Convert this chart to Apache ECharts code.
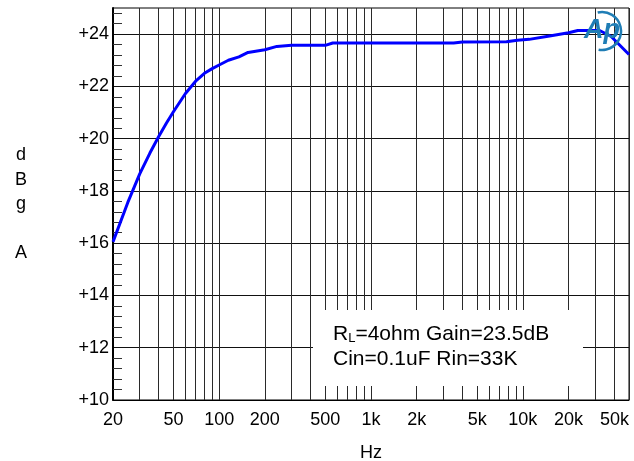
<!DOCTYPE html>
<html>
<head>
<meta charset="utf-8">
<script src="https://cdn.jsdelivr.net/npm/echarts@6/dist/echarts.min.js"></script>
<style>
html,body{margin:0;padding:0;background:#fff;}
#c{width:634px;height:461px;}
</style>
</head>
<body>
<div id="c"></div>
<script>
// Data
const freqHz = [20, 25, 30, 35, 40, 45, 50, 60, 70, 80, 90, 100, 115, 135, 155, 200, 240, 300, 500, 560, 3500, 4000, 7800, 9200, 11000, 15000, 20000, 23000, 32000, 38000, 50000];
const gainDb = [16.05, 17.55, 18.65, 19.45, 20.08, 20.6, 21.03, 21.73, 22.2, 22.5, 22.68, 22.82, 23.0, 23.13, 23.3, 23.4, 23.53, 23.57, 23.57, 23.66, 23.66, 23.7, 23.71, 23.77, 23.8, 23.93, 24.05, 24.14, 24.14, 23.92, 23.22];
const xGridValues = [20, 30, 40, 50, 60, 70, 80, 90, 100, 200, 300, 400, 500, 600, 700, 800, 900, 1000, 2000, 3000, 4000, 5000, 6000, 7000, 8000, 9000, 10000, 20000, 30000, 40000, 50000];
const xLabelValues = [20, 50, 100, 200, 500, 1000, 2000, 5000, 10000, 20000, 50000];
const yLabelValues = [10, 12, 14, 16, 18, 20, 22, 24];
const yMinorValues = [10.4, 10.8, 11.2, 11.6, 12.4, 12.8, 13.2, 13.6, 14.4, 14.8, 15.2, 15.6, 16.4, 16.8, 17.2, 17.6, 18.4, 18.8, 19.2, 19.6, 20.4, 20.8, 21.2, 21.6, 22.4, 22.8, 23.2, 23.6, 24.4, 24.8];
const noteLine1 = ['R', 'L', '=4ohm Gain=23.5dB'];
const noteLine2 = 'Cin=0.1uF Rin=33K';

const FONT = 'Liberation Sans, Arial, sans-serif';
const chart = echarts.init(document.getElementById('c'), null, {renderer: 'canvas'});
const seriesData = freqHz.map((f, i) => [f, gainDb[i]]);

chart.setOption({
  animation: false,
  backgroundColor: '#fff',
  grid: {left: 113, right: 5, top: 8, bottom: 61, show: true, borderColor: '#000', borderWidth: 1,
    backgroundColor: 'transparent', containLabel: false, outerBoundsMode: 'none'},
  xAxis: {
    type: 'log', logBase: 10, min: 20, max: 50000,
    name: 'Hz', nameLocation: 'middle', nameGap: 44,
    nameTextStyle: {fontFamily: FONT, fontSize: 18, color: '#000'},
    axisLine: {show: true, lineStyle: {color: '#000', width: 1}},
    axisTick: {show: false, customValues: xGridValues},
    axisLabel: {customValues: xLabelValues, fontFamily: FONT, fontSize: 18, color: '#000', margin: 11,
      alignMaxLabel: 'right', showMaxLabel: true, showMinLabel: true,
      formatter: v => v >= 1000 ? (v / 1000) + 'k' : String(v)},
    splitLine: {show: true, lineStyle: {color: '#2a2a2a', width: 1}},
    minorTick: {show: false}, minorSplitLine: {show: false}
  },
  yAxis: [{
    type: 'value', min: 10, max: 25,
    name: 'd\nB\ng\n\nA', nameLocation: 'middle', nameRotate: 0, nameGap: 92,
    nameTextStyle: {fontFamily: FONT, fontSize: 18, color: '#000', lineHeight: 24.3, align: 'center'},
    axisLine: {show: true, lineStyle: {color: '#000', width: 2}},
    axisTick: {show: false, customValues: yLabelValues},
    axisLabel: {customValues: yLabelValues, fontFamily: FONT, fontSize: 18, color: '#000', margin: 4,
      formatter: v => '+' + v},
    splitLine: {show: true, lineStyle: {color: '#111', width: 1}}
  }, {
    type: 'value', min: 10, max: 25, position: 'left',
    axisLine: {show: false},
    axisTick: {show: true, inside: true, length: 9, customValues: yMinorValues, lineStyle: {color: '#333', width: 1}},
    axisLabel: {show: false},
    splitLine: {show: false}
  }],
  series: [{
    type: 'line', xAxisIndex: 0, yAxisIndex: 0,
    data: seriesData, symbol: 'none', smooth: false,
    lineStyle: {color: '#0000ff', width: 3},
    z: 5
  }],
  graphic: [
    {type: 'rect', z: 50, shape: {x: 313, y: 310, width: 270, height: 76}, style: {fill: '#fff'}},
    {type: 'text', z: 60, x: 333, y: 334, style: {
      text: '{n|' + noteLine1[0] + '}{s|' + noteLine1[1] + '}{n|' + noteLine1[2] + '}',
      verticalAlign: 'middle', fill: '#000', fontFamily: FONT,
      rich: {n: {fontSize: 21, fontFamily: FONT, fill: '#000'},
             s: {fontSize: 13, fontFamily: FONT, fill: '#000', verticalAlign: 'bottom', padding: [0, 0, 0, 0]}}
    }},
    {type: 'text', z: 60, x: 333, y: 359, style: {text: noteLine2, fontSize: 21, fontFamily: FONT, fill: '#000', verticalAlign: 'middle'}},
    {type: 'arc', z: 70, shape: {cx: 602, cy: 31, r: 19, startAngle: -1.8, endAngle: 1.75}, style: {stroke: '#1f7db5', lineWidth: 2.5, fill: 'none'}},
    {type: 'text', z: 71, x: 584, y: 31, style: {text: 'Ap', fontSize: 27, fontStyle: 'italic', fontWeight: 'bold', fontFamily: FONT, fill: '#1f7db5', verticalAlign: 'middle'}}
  ]
});
</script>
</body>
</html>
